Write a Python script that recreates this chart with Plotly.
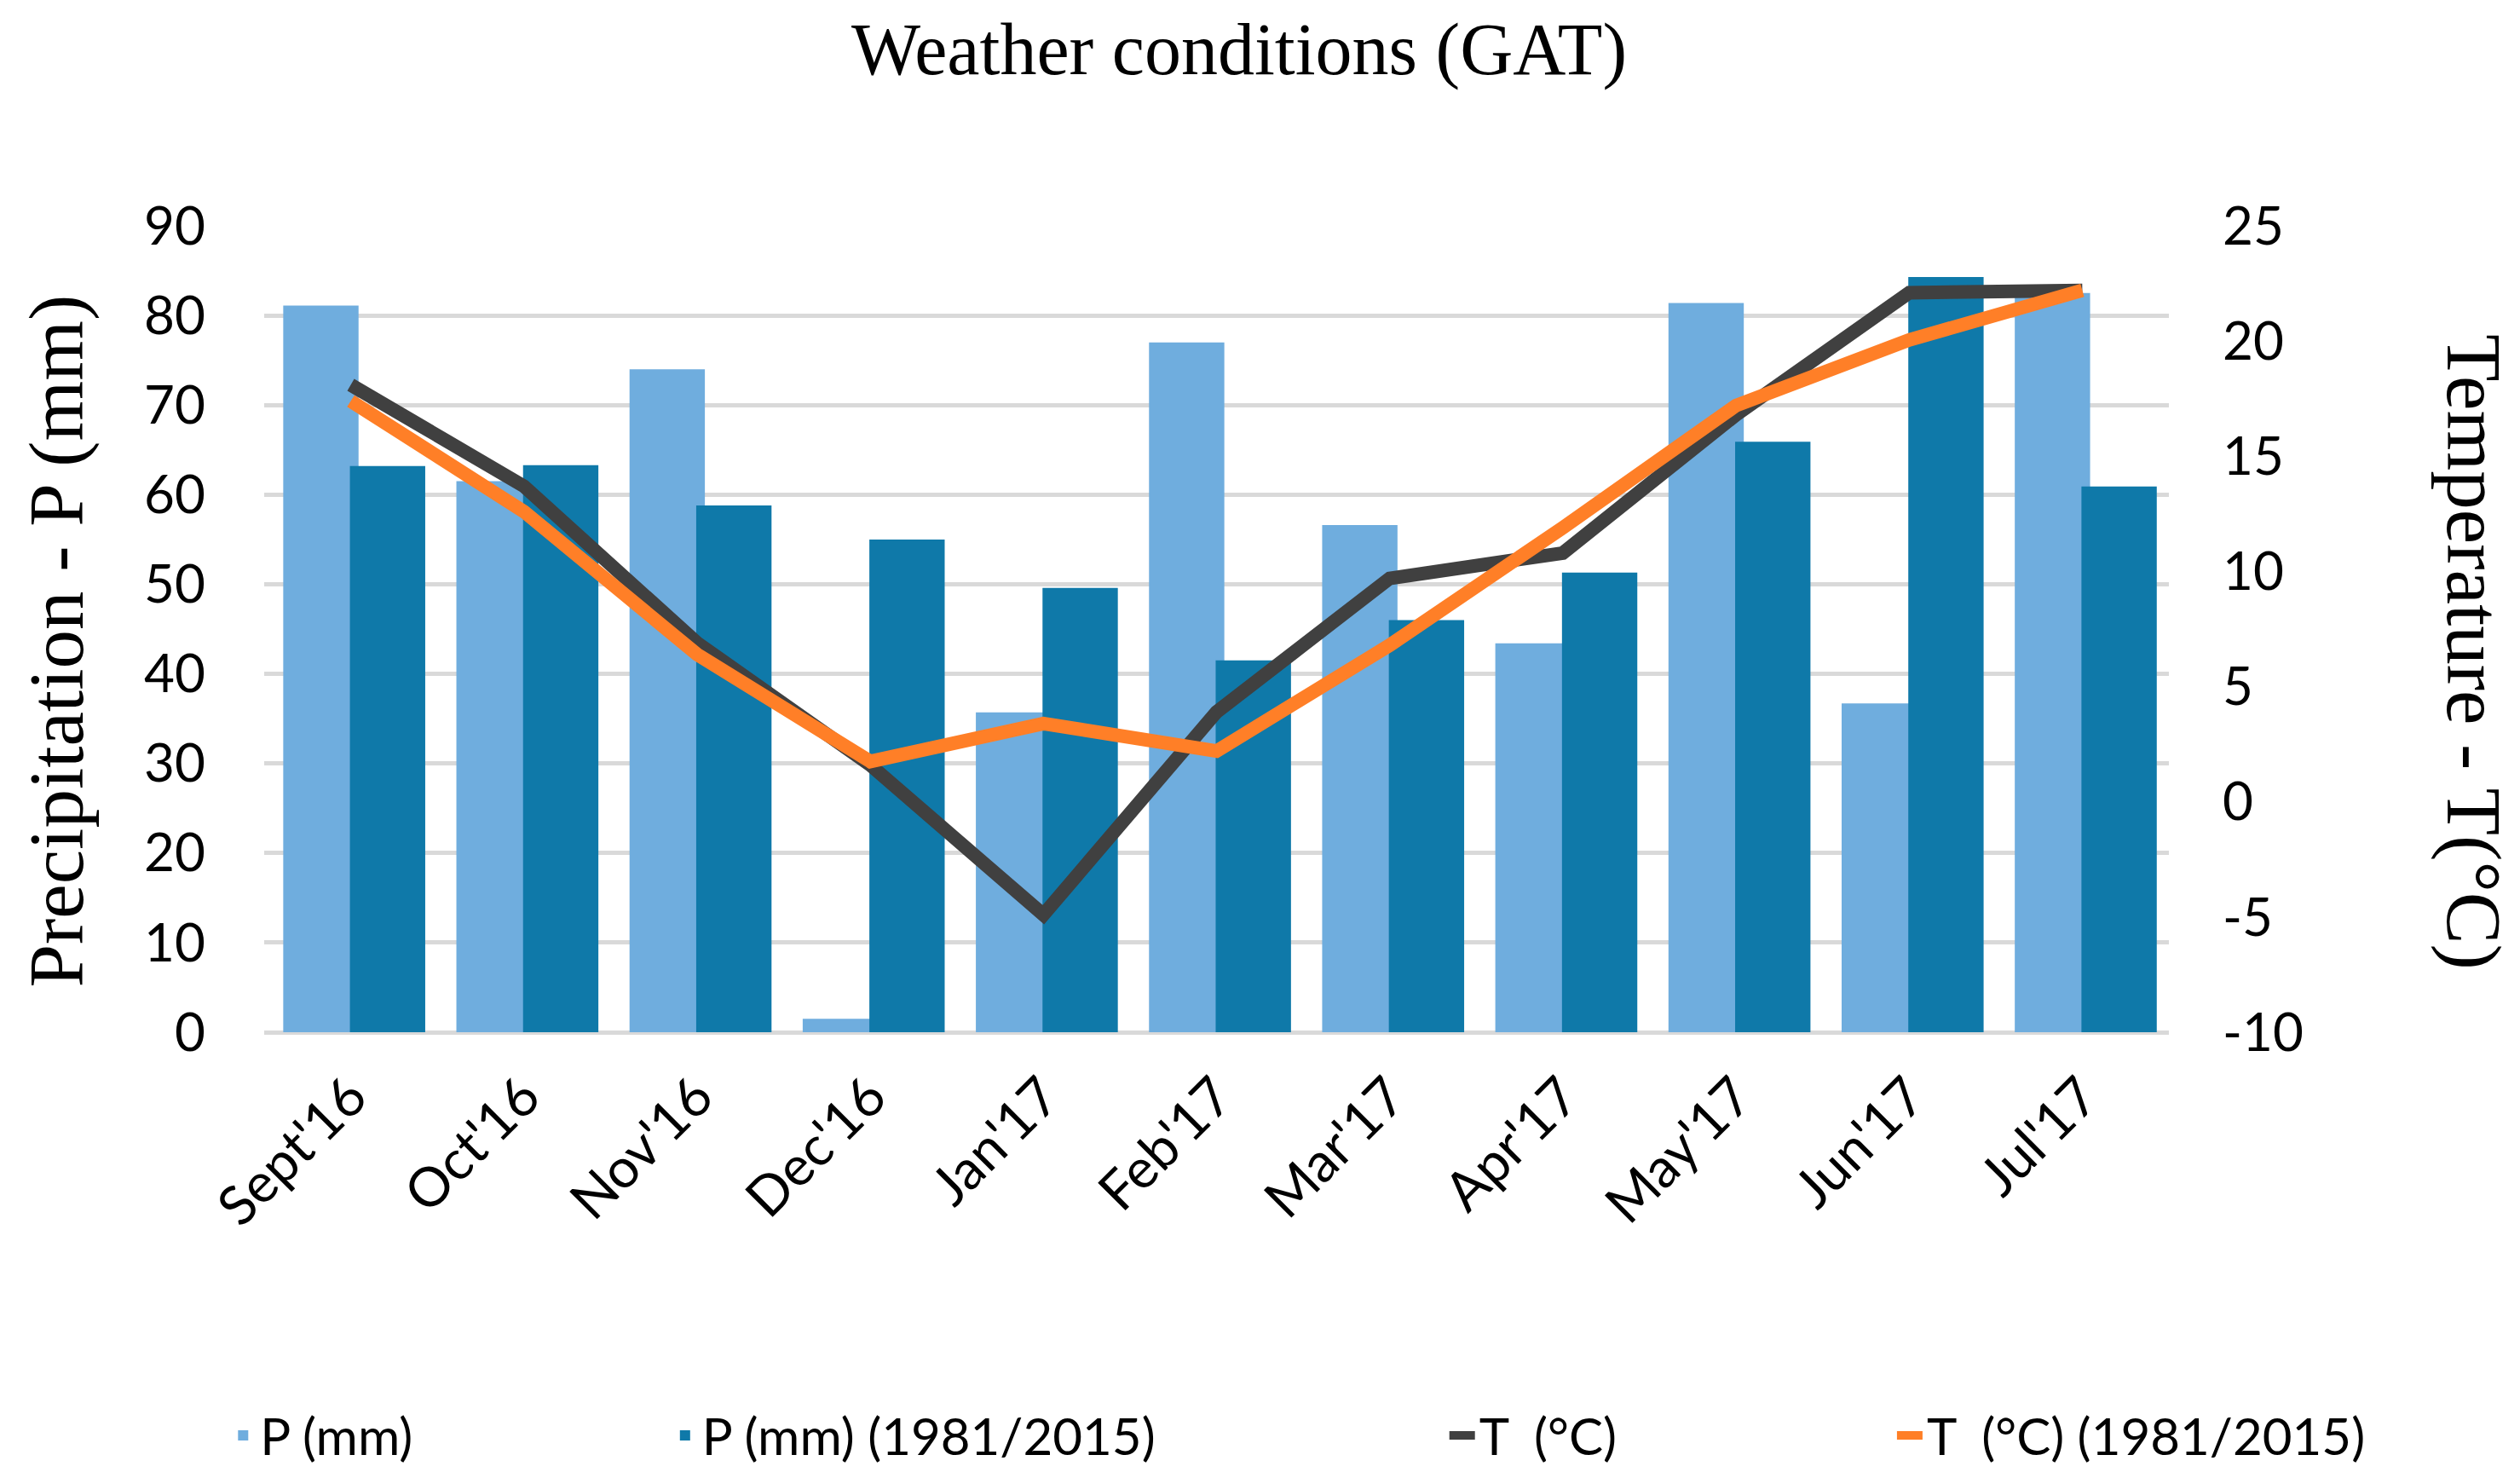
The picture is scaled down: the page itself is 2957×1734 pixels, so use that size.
import plotly.graph_objects as go

months = ["Sept'16", "Oct'16", "Nov'16", "Dec'16", "Jan'17", "Feb'17",
          "Mar'17", "Apr'17", "May'17", "Jun'17", "Jul'17"]

# precipitation (mm), season and long-term mean
p_mm = [81.1, 61.5, 74.0, 1.5, 35.7, 77.0, 56.6, 43.4, 81.4, 36.7, 82.5]
p_mm_ref = [63.2, 63.3, 58.8, 55.0, 49.6, 41.5, 46.0, 51.3, 65.9, 84.3, 60.9]

# mean temperature (°C), season and long-term mean
t_c = [18.1, 13.7, 6.9, 1.6, -4.9, 3.9, 9.7, 10.8, 16.8, 22.1, 22.2]
t_c_ref = [17.4, 12.6, 6.4, 1.75, 3.4, 2.2, 6.8, 11.9, 17.2, 20.05, 22.2]

# right axis ticks (hyphen minus, as in the original)
t_ticks = [-10, -5, 0, 5, 10, 15, 20, 25]
t_ticktext = [str(v) for v in t_ticks]

tick_font = dict(family="Lato", size=62, color="black")
serif = "Liberation Serif"
legend_font = dict(family="Lato", size=60, color="black")

fig = go.Figure()

fig.add_trace(go.Bar(
    x=months, y=p_mm, name="P (mm)", legend="legend",
    marker=dict(color="#6FADDE", line=dict(width=0)),
    width=0.435, offset=-0.39,
))
fig.add_trace(go.Bar(
    x=months, y=p_mm_ref, name="P (mm) (1981/2015)", legend="legend2",
    marker=dict(color="#0F79A9", line=dict(width=0)),
    width=0.435, offset=-0.005,
))
fig.add_trace(go.Scatter(
    x=months, y=t_c, name="T\u00a0 (°C)", yaxis="y2", legend="legend3",
    mode="lines", line=dict(color="#404040", width=16),
))
fig.add_trace(go.Scatter(
    x=months, y=t_c_ref, name="T\u00a0 (°C) (1981/2015)", yaxis="y2",
    legend="legend4",
    mode="lines", line=dict(color="#FF7F27", width=16),
))


def leg(x):
    return dict(orientation="h", x=x, xanchor="left", y=-0.5,
                yanchor="middle", font=legend_font, bgcolor="rgba(0,0,0,0)")


fig.update_layout(
    width=2957, height=1734,
    paper_bgcolor="white", plot_bgcolor="white",
    barmode="overlay",
    showlegend=True,
    margin=dict(l=302, r=420, t=257, b=529),
    title=dict(text="Weather conditions (GAT)", x=0.489, xanchor="center",
               y=0.972, yanchor="middle", yref="container",
               font=dict(family=serif, size=86, color="black")),
    xaxis=dict(
        type="category", tickangle=-45,
        tickfont=dict(family="Lato", size=64, color="black"),
        showgrid=False, showline=False, zeroline=False,
        ticks="", ticklabelstandoff=24,
    ),
    yaxis=dict(
        range=[0, 90], dtick=10, tickfont=tick_font,
        showgrid=True, gridcolor="#D9D9D9", gridwidth=5,
        zeroline=True, zerolinecolor="#D9D9D9", zerolinewidth=5,
        showline=False, ticks="", ticklabelstandoff=68,
    ),
    yaxis2=dict(
        range=[-10, 25], tickvals=t_ticks, ticktext=t_ticktext,
        tickfont=tick_font,
        overlaying="y", side="right", showgrid=False, zeroline=False,
        showline=False, ticks="", ticklabelstandoff=62,
    ),
    legend=leg(-0.02),
    legend2=leg(0.212),
    legend3=leg(0.62),
    legend4=leg(0.855),
    annotations=[
        dict(text="Precipitation - P (mm)", xref="paper", yref="paper",
             x=-0.109, y=0.485, xanchor="center", yanchor="middle",
             textangle=-90, showarrow=False,
             font=dict(family=serif, size=91, color="black")),
        dict(text="Temperature - T(°C)", xref="paper", yref="paper",
             x=1.160, y=0.472, xanchor="center", yanchor="middle",
             textangle=90, showarrow=False,
             font=dict(family=serif, size=91, color="black")),
    ],
)

fig.write_html("out.html")
